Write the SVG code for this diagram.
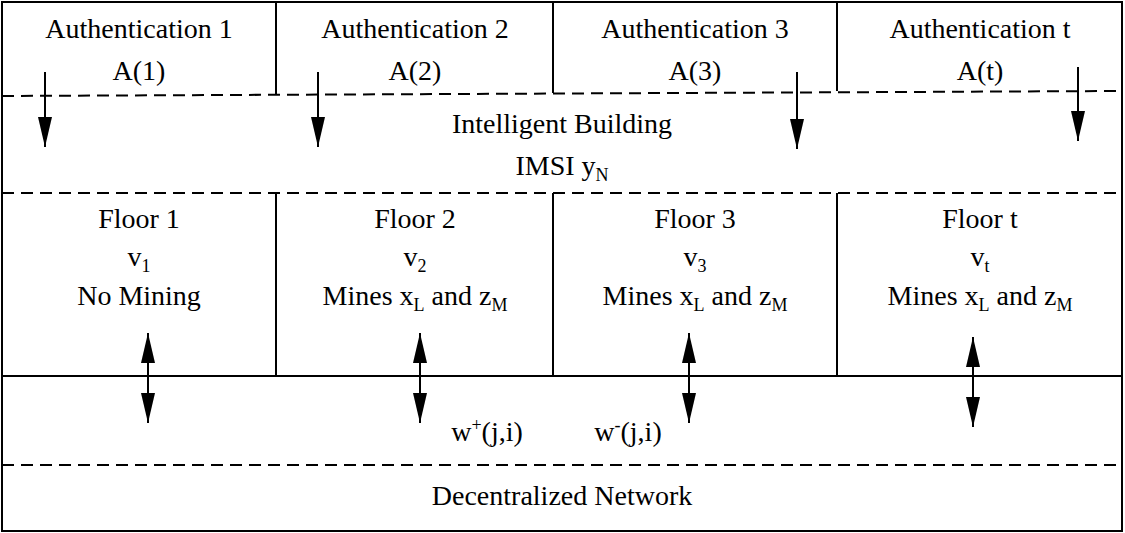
<svg xmlns="http://www.w3.org/2000/svg" width="1125" height="533" viewBox="0 0 1125 533">
<style>
.s{stroke:#000;stroke-width:2;fill:none}
.d{stroke:#000;stroke-width:2;fill:none;stroke-dasharray:12,7}
.a{stroke:#000;stroke-width:2;fill:none}
.t{font-family:'Liberation Serif','DejaVu Serif','Times New Roman',serif;font-size:28px;text-anchor:middle;fill:#000}
</style>
<defs>
<marker id="ah2" viewBox="0 0 30 14" refX="30" refY="7" markerWidth="30" markerHeight="14" markerUnits="userSpaceOnUse" orient="auto-start-reverse"><path d="M0,0 L30,7 L0,14 z" fill="#000"/></marker>
</defs>
<rect width="1125" height="533" fill="#fff"/>
<g id="frame">
<rect class="s" x="2" y="2" width="1120" height="529" stroke-width="3"/>
<line class="s" x1="276" y1="2" x2="276" y2="95"/>
<line class="s" x1="553" y1="2" x2="553" y2="93"/>
<line class="s" x1="837" y1="2" x2="837" y2="91"/>
<line class="d" x1="2" y1="96" x2="1122" y2="91"/>
<line class="d" x1="2" y1="193" x2="1122" y2="193"/>
<line class="s" x1="276" y1="193" x2="276" y2="376"/>
<line class="s" x1="553" y1="193" x2="553" y2="376"/>
<line class="s" x1="837" y1="193" x2="837" y2="376"/>
<line class="s" x1="2" y1="376" x2="1122" y2="376"/>
<line class="d" x1="2" y1="465" x2="1122" y2="465"/>
</g>
<g class="t">
<g id="auth1"><text class="t" x="139" y="38">Authentication 1</text><text class="t" x="139" y="80">A(1)</text></g>
<g id="auth2"><text class="t" x="415" y="38">Authentication 2</text><text class="t" x="415" y="80">A(2)</text></g>
<g id="auth3"><text class="t" x="695" y="38">Authentication 3</text><text class="t" x="695" y="80">A(3)</text></g>
<g id="autht"><text class="t" x="980" y="38">Authentication t</text><text class="t" x="980" y="80">A(t)</text></g>
<g id="building"><text class="t" x="562" y="133">Intelligent Building</text><text class="t" x="562" y="175">IMSI y<tspan font-size="18" dy="6">N</tspan></text></g>
<g id="floor1"><text class="t" x="139" y="228">Floor 1</text><text class="t" x="139" y="266">v<tspan font-size="18" dy="6">1</tspan></text><text class="t" x="139" y="305">No Mining</text></g>
<g id="floor2"><text class="t" x="415" y="228">Floor 2</text><text class="t" x="415" y="266">v<tspan font-size="18" dy="6">2</tspan></text><text class="t" x="415" y="305">Mines x<tspan font-size="18" dy="6">L</tspan><tspan dy="-6"> and z</tspan><tspan font-size="18" dy="6">M</tspan></text></g>
<g id="floor3"><text class="t" x="695" y="228">Floor 3</text><text class="t" x="695" y="266">v<tspan font-size="18" dy="6">3</tspan></text><text class="t" x="695" y="305">Mines x<tspan font-size="18" dy="6">L</tspan><tspan dy="-6"> and z</tspan><tspan font-size="18" dy="6">M</tspan></text></g>
<g id="floort"><text class="t" x="980" y="228">Floor t</text><text class="t" x="980" y="266">v<tspan font-size="18" dy="6">t</tspan></text><text class="t" x="980" y="305">Mines x<tspan font-size="18" dy="6">L</tspan><tspan dy="-6"> and z</tspan><tspan font-size="18" dy="6">M</tspan></text></g>
<g id="network"><text class="t" x="562" y="505">Decentralized Network</text>
<text class="t" x="487" y="441">w<tspan font-size="18" dy="-10">+</tspan><tspan dy="10">(j,i)</tspan></text>
<text class="t" x="628" y="441">w<tspan font-size="18" dy="-10">-</tspan><tspan dy="10">(j,i)</tspan></text></g>
</g>
<g id="connectors">
<line class="a" x1="45" y1="72" x2="45" y2="147" marker-end="url(#ah2)"/>
<line class="a" x1="318" y1="72" x2="318" y2="147" marker-end="url(#ah2)"/>
<line class="a" x1="797" y1="72" x2="797" y2="149" marker-end="url(#ah2)"/>
<line class="a" x1="1078" y1="67" x2="1078" y2="141" marker-end="url(#ah2)"/>
<line class="a" x1="148" y1="333" x2="148" y2="423" marker-start="url(#ah2)" marker-end="url(#ah2)"/>
<line class="a" x1="420" y1="333" x2="420" y2="423" marker-start="url(#ah2)" marker-end="url(#ah2)"/>
<line class="a" x1="689" y1="333" x2="689" y2="423" marker-start="url(#ah2)" marker-end="url(#ah2)"/>
<line class="a" x1="973" y1="337" x2="973" y2="427" marker-start="url(#ah2)" marker-end="url(#ah2)"/>
</g>
</svg>
